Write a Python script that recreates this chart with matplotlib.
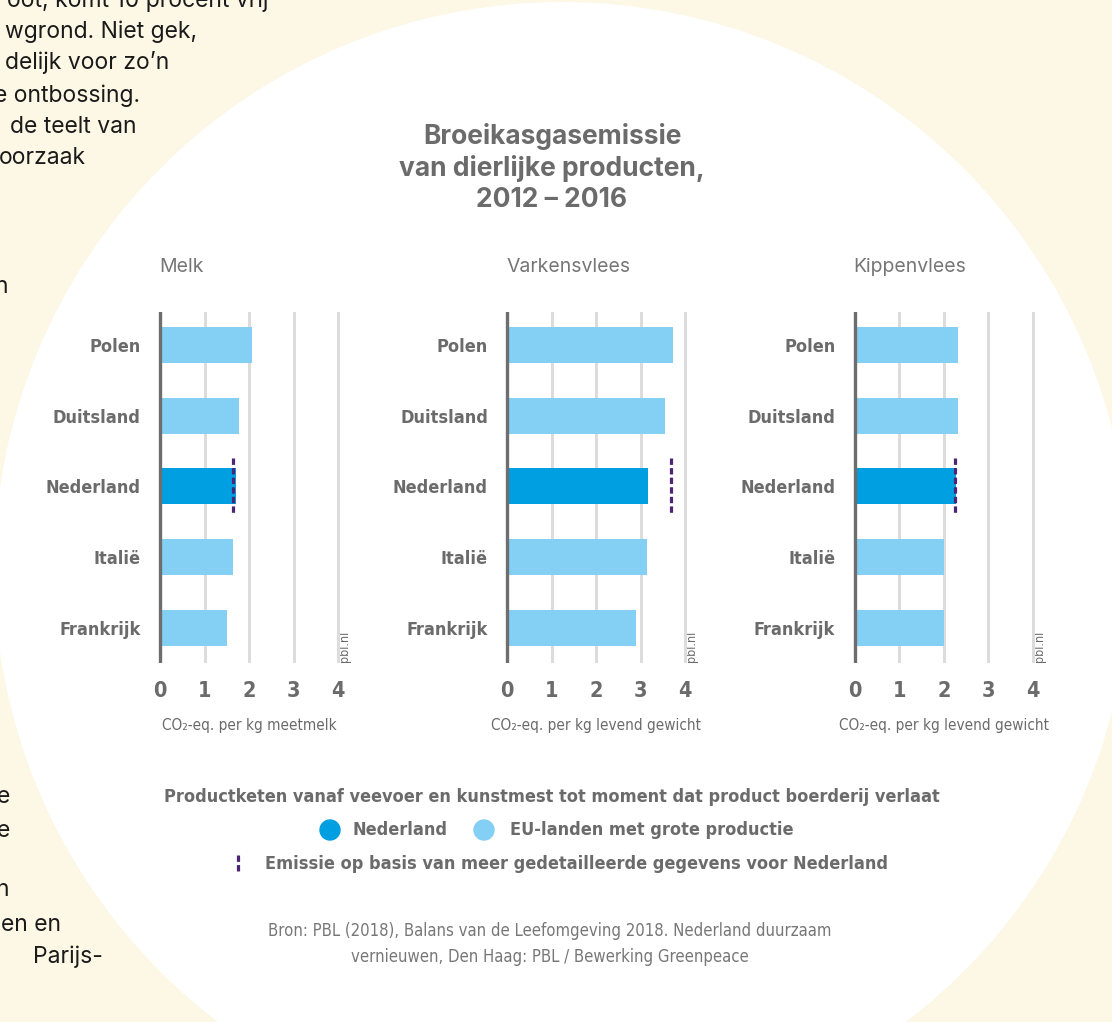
import matplotlib
matplotlib.use("Agg")
import matplotlib.pyplot as plt
from matplotlib.patches import Circle
from matplotlib.lines import Line2D

# data
countries = ["Polen", "Duitsland", "Nederland", "Italië", "Frankrijk"]
melk = [2.07, 1.78, 1.71, 1.63, 1.51]
varkensvlees = [3.73, 3.55, 3.17, 3.15, 2.89]
kippenvlees = [2.33, 2.33, 2.27, 2.00, 2.00]
nl_detail = [1.64, 3.67, 2.25]
panel_titles = ["Melk", "Varkensvlees", "Kippenvlees"]
units = ["CO₂-eq. per kg meetmelk", "CO₂-eq. per kg levend gewicht", "CO₂-eq. per kg levend gewicht"]
ticks = [0, 1, 2, 3, 4]

W, H = 1112, 1022
GREY = "#6b6b6b"
LIGHT = "#84cff4"
DARK = "#009fe1"
PURPLE = "#4b2672"
CREAM = "#fdf7e5"
SANS = ["Inter", "DejaVu Sans"]
COND = dict(family=["DejaVu Sans"], stretch="condensed")

fig = plt.figure(figsize=(W / 100, H / 100), dpi=100)
fig.patch.set_facecolor(CREAM)

# achtergrond in pixelcoordinaten
bg = fig.add_axes([0, 0, 1, 1], zorder=-5)
bg.set_xlim(0, W)
bg.set_ylim(H, 0)
bg.axis("off")
bg.add_patch(Circle((562, 570), 568, facecolor="white", edgecolor="none"))

# afgesneden lopende tekst links
left_text = [
    ("oot, komt 10 procent vrij", 268, 1),
    ("wgrond. Niet gek,", 197, 32),
    ("delijk voor zo’n", 169, 63),
    ("e ontbossing.", 140, 96),
    ("de teelt van", 137, 127),
    ("oorzaak", 86, 158),
    ("n", 8, 287),
    ("e", 10, 797),
    ("e", 10, 831),
    ("n", 9, 890),
    ("en en", 61, 925),
    ("Parijs-", 103, 957),
]
for s, xr, yc in left_text:
    bg.text(xr, yc, s, ha="right", va="center", fontsize=16.5, color="#1a1a1a", family=SANS)


def px_axes(x0, y0, x1, y1):
    return fig.add_axes([x0 / W, 1 - y1 / H, (x1 - x0) / W, (y1 - y0) / H])


zeros = [160, 507.3, 854.7]
ppu = 44.5
series = [melk, varkensvlees, kippenvlees]
ypos = list(range(len(countries)))

for i, (vals, x0) in enumerate(zip(series, zeros)):
    ax = px_axes(x0 - 0.06 * ppu, 312, x0 + 4.06 * ppu, 663)
    ax.set_xlim(-0.06, 4.06)
    ax.set_ylim(4.5, -0.47)
    for t in ticks[1:]:
        ax.axvline(t, color="#dcdcdc", lw=2.2, zorder=0)
    colors = [DARK if c == "Nederland" else LIGHT for c in countries]
    ax.barh(ypos, vals, height=0.51, color=colors, zorder=2)
    ax.axvline(0, color="#6e6e6e", lw=2.4, zorder=3)
    nl = countries.index("Nederland")
    ax.plot([nl_detail[i], nl_detail[i]], [nl - 0.4, nl + 0.4], color=PURPLE,
            lw=2.3, linestyle=(0, (2.0, 1.0)), zorder=4, solid_capstyle="butt")
    for s in ax.spines.values():
        s.set_visible(False)
    ax.set_xticks(ticks)
    ax.set_xticklabels([str(t) for t in ticks], fontsize=15.5, fontweight="bold",
                       color=GREY, **COND)
    ax.set_yticks(ypos)
    ax.set_yticklabels(countries, fontsize=13, fontweight="bold", color=GREY, **COND)
    ax.tick_params(length=0, axis="x", pad=13)
    ax.tick_params(length=0, axis="y", pad=12)
    ax.set_facecolor("none")
    ax.set_xlabel(units[i], fontsize=11, color=GREY, labelpad=12, **COND)
    bg.text(x0 - 1, 267, panel_titles[i], fontsize=14, color="#767676",
            family=SANS, ha="left", va="center")
    bg.text(x0 + 4.15 * ppu, 662, "pbl.nl", rotation=90, fontsize=9, color=GREY,
            ha="center", va="bottom", **COND)

bg.text(552, 168, "Broeikasgasemissie\nvan dierlijke producten,\n2012 – 2016",
        ha="center", va="center", fontsize=19, fontweight="bold", color=GREY,
        family=SANS, linespacing=1.22)

# legenda
bg.text(552, 797, "Productketen vanaf veevoer en kunstmest tot moment dat product boerderij verlaat",
        ha="center", va="center", fontsize=13, fontweight="bold", color=GREY, **COND)
bg.add_patch(Circle((330, 830), 10, color=DARK))
bg.text(352, 830, "Nederland", ha="left", va="center", fontsize=13,
        fontweight="bold", color=GREY, **COND)
bg.add_patch(Circle((484, 830), 10, color=LIGHT))
bg.text(510, 830, "EU-landen met grote productie", ha="left", va="center", fontsize=13,
        fontweight="bold", color=GREY, **COND)
bg.add_line(Line2D([238, 238], [855, 873], color=PURPLE, lw=2.3,
                   linestyle=(0, (2.0, 1.0))))
bg.text(265, 864, "Emissie op basis van meer gedetailleerde gegevens voor Nederland",
        ha="left", va="center", fontsize=13, fontweight="bold", color=GREY, **COND)

bg.text(550, 944, "Bron: PBL (2018), Balans van de Leefomgeving 2018. Nederland duurzaam\n"
        "vernieuwen, Den Haag: PBL / Bewerking Greenpeace",
        ha="center", va="center", fontsize=12, color="#777777",
        linespacing=1.55, **COND)

fig.savefig("out.png", dpi=100, facecolor=CREAM)
